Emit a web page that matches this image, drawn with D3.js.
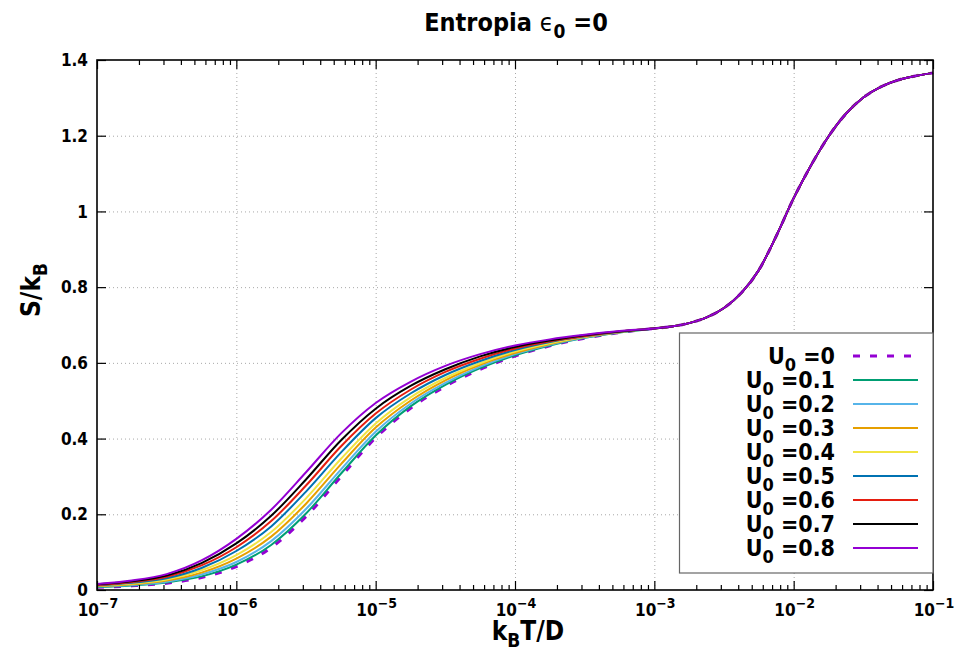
<!DOCTYPE html>
<html>
<head>
<meta charset="utf-8">
<script src="https://cdn.jsdelivr.net/npm/d3@7"></script>
<style>
  body { margin: 0; background: #fff; }
  text { font-family: "DejaVu Sans Condensed", "DejaVu Sans", sans-serif; font-stretch: condensed; font-weight: bold; fill: #000; }
</style>
</head>
<body>
<svg id="chart" width="954" height="652"></svg>
<script>
// Temperature grid (log10 of k_B T / D), low-temperature part where the curves differ
const log10T = [-7, -6.75, -6.5, -6.25, -6, -5.75, -5.5, -5.25, -5, -4.75, -4.5, -4.25, -4, -3.75, -3.5, -3.25];
// High-temperature part, shared by every U0
const log10Ttail = [-3, -2.875, -2.75, -2.625, -2.5, -2.375, -2.25, -2.125, -2, -1.875, -1.75, -1.625, -1.5, -1.375, -1.25, -1.125, -1];
const sTail = [0.691, 0.696, 0.705, 0.720, 0.745, 0.785, 0.845, 0.935, 1.035, 1.122, 1.198, 1.258, 1.301, 1.329, 1.347, 1.358, 1.366];

// S/k_B in the low-temperature region, one array per U0
const sU00 = [0.007, 0.011, 0.018, 0.033, 0.062, 0.112, 0.194, 0.299, 0.402, 0.480, 0.538, 0.583, 0.618, 0.645, 0.665, 0.680];
const sU01 = [0.008, 0.012, 0.020, 0.036, 0.067, 0.119, 0.202, 0.307, 0.408, 0.485, 0.542, 0.586, 0.620, 0.646, 0.666, 0.680];
const sU02 = [0.009, 0.013, 0.022, 0.041, 0.074, 0.129, 0.214, 0.318, 0.418, 0.492, 0.547, 0.590, 0.623, 0.648, 0.667, 0.681];
const sU03 = [0.010, 0.015, 0.025, 0.046, 0.083, 0.141, 0.228, 0.332, 0.429, 0.500, 0.554, 0.595, 0.626, 0.650, 0.668, 0.681];
const sU04 = [0.011, 0.017, 0.028, 0.052, 0.092, 0.153, 0.242, 0.346, 0.440, 0.509, 0.560, 0.599, 0.630, 0.652, 0.669, 0.682];
const sU05 = [0.012, 0.019, 0.031, 0.058, 0.103, 0.168, 0.260, 0.363, 0.454, 0.519, 0.568, 0.605, 0.634, 0.655, 0.670, 0.682];
const sU06 = [0.013, 0.021, 0.035, 0.065, 0.113, 0.182, 0.276, 0.379, 0.466, 0.529, 0.576, 0.611, 0.638, 0.657, 0.671, 0.683];
const sU07 = [0.015, 0.023, 0.038, 0.071, 0.123, 0.196, 0.292, 0.395, 0.479, 0.539, 0.583, 0.617, 0.642, 0.659, 0.673, 0.683];
const sU08 = [0.016, 0.025, 0.042, 0.078, 0.135, 0.212, 0.311, 0.413, 0.494, 0.550, 0.592, 0.623, 0.646, 0.662, 0.674, 0.684];

const u0Labels = ["0", "0.1", "0.2", "0.3", "0.4", "0.5", "0.6", "0.7", "0.8"];
const lineColors = ["#9400d3", "#009e73", "#56b4e9", "#e69f00", "#f0e442", "#0072b2", "#e51e10", "#000000", "#9400d3"];

const xExponents = [-7, -6, -5, -4, -3, -2, -1];
const yTickValues = [0, 0.2, 0.4, 0.6, 0.8, 1, 1.2, 1.4];
const yTickLabels = ["0", "0.2", "0.4", "0.6", "0.8", "1", "1.2", "1.4"];

const W = 954, H = 652;
const M = { left: 97, right: 21, top: 60, bottom: 62 };
const svg = d3.select("#chart");

const x = d3.scaleLog().domain([1e-7, 1e-1]).range([M.left, W - M.right]);
const y = d3.scaleLinear().domain([0, 1.4]).range([H - M.bottom, M.top]);
const pw = W - M.left - M.right, ph = H - M.top - M.bottom;

const decades = xExponents.map(e => Math.pow(10, e));
const minorTicks = [];
for (let e = -7; e < -1; e++) for (let k = 2; k <= 9; k++) minorTicks.push(k * Math.pow(10, e));

// dotted grid at the major ticks
const grid = svg.append("g");
grid.append("g").attr("transform", `translate(0,${H - M.bottom})`)
  .call(d3.axisBottom(x).tickValues(decades.slice(1, -1)).tickSize(-ph).tickFormat(""))
  .call(g => g.select(".domain").remove());
grid.append("g").attr("transform", `translate(${M.left},0)`)
  .call(d3.axisLeft(y).tickValues(yTickValues.slice(1, -1)).tickSize(-pw).tickFormat(""))
  .call(g => g.select(".domain").remove());
grid.selectAll("line").attr("stroke", "#a8a8a8").attr("stroke-width", 1).attr("stroke-dasharray", "1,3");

// entropy curves, U0 = 0 first so that U0 = 0.8 ends up on top
const series = [sU00, sU01, sU02, sU03, sU04, sU05, sU06, sU07, sU08];
const xs = log10T.concat(log10Ttail).map(e => Math.pow(10, e));
const line = d3.line().x(d => x(d[0])).y(d => y(d[1])).curve(d3.curveMonotoneX);
series.forEach((s, i) => {
  const full = s.concat(sTail);
  const pts = xs.map((t, j) => [t, full[j]]);
  svg.append("path").datum(pts)
    .attr("d", line)
    .attr("fill", "none")
    .attr("stroke", lineColors[i])
    .attr("stroke-width", i === 0 ? 3 : 2)
    .attr("stroke-dasharray", i === 0 ? "7,10" : null)
    .attr("stroke-linejoin", "round");
});

// inward ticks on all four sides
function styleAxis(g) { g.select(".domain").remove(); g.selectAll("line").attr("stroke", "#000").attr("stroke-width", 1.2); }
svg.append("g").attr("transform", `translate(0,${H - M.bottom})`)
  .call(d3.axisBottom(x).tickValues(decades).tickSize(-9).tickFormat("")).call(styleAxis);
svg.append("g").attr("transform", `translate(0,${H - M.bottom})`)
  .call(d3.axisBottom(x).tickValues(minorTicks).tickSize(-5).tickFormat("")).call(styleAxis);
svg.append("g").attr("transform", `translate(0,${M.top})`)
  .call(d3.axisTop(x).tickValues(decades).tickSize(-9).tickFormat("")).call(styleAxis);
svg.append("g").attr("transform", `translate(0,${M.top})`)
  .call(d3.axisTop(x).tickValues(minorTicks).tickSize(-5).tickFormat("")).call(styleAxis);
svg.append("g").attr("transform", `translate(${M.left},0)`)
  .call(d3.axisLeft(y).tickValues(yTickValues).tickSize(-9).tickFormat("")).call(styleAxis);
svg.append("g").attr("transform", `translate(${W - M.right},0)`)
  .call(d3.axisRight(y).tickValues(yTickValues).tickSize(-9).tickFormat("")).call(styleAxis);

svg.append("rect").attr("x", M.left).attr("y", M.top).attr("width", pw).attr("height", ph)
  .attr("fill", "none").attr("stroke", "#000").attr("stroke-width", 1.6);

// tick labels
yTickValues.forEach((v, i) => {
  svg.append("text").attr("x", M.left - 9).attr("y", y(v)).attr("dy", "0.36em")
    .attr("text-anchor", "end").attr("font-size", 17).text(yTickLabels[i]);
});
xExponents.forEach(e => {
  const t = svg.append("text").attr("x", x(Math.pow(10, e)) + 1).attr("y", H - M.bottom + 26)
    .attr("text-anchor", "middle").attr("font-size", 17);
  t.append("tspan").text("10");
  t.append("tspan").attr("dy", -8).attr("font-size", 14).text("\u2212" + Math.abs(e));
});

// title
const title = svg.append("text").attr("x", 516).attr("y", 31).attr("text-anchor", "middle").attr("font-size", 25);
title.append("tspan").text("Entropia ");
title.append("tspan").attr("font-weight", "normal").text("\u03f5");
title.append("tspan").attr("dy", 7).attr("font-size", 19).text("0");
title.append("tspan").attr("dy", -7).text(" =0");

// axis titles
const xl = svg.append("text").attr("x", 528).attr("y", 640).attr("text-anchor", "middle").attr("font-size", 26);
xl.append("tspan").text("k");
xl.append("tspan").attr("dy", 7).attr("font-size", 19).text("B");
xl.append("tspan").attr("dy", -7).text("T/D");

const yl = svg.append("text").attr("transform", "translate(40,290) rotate(-90)").attr("text-anchor", "middle").attr("font-size", 26);
yl.append("tspan").text("S/k");
yl.append("tspan").attr("dy", 7).attr("font-size", 19).text("B");

// legend
const lg = svg.append("g");
lg.append("rect").attr("x", 679.5).attr("y", 333).attr("width", 933 - 679.5).attr("height", 573 - 333)
  .attr("fill", "#fff").attr("stroke", "#666").attr("stroke-width", 1.2);
u0Labels.forEach((lab, i) => {
  const ry = 356 + i * 24;
  const t = lg.append("text").attr("x", 835).attr("y", ry + 7.5).attr("text-anchor", "end").attr("font-size", 23);
  t.append("tspan").text("U");
  t.append("tspan").attr("dy", 7).attr("font-size", 18).text("0");
  t.append("tspan").attr("dy", -7).text(" =" + lab);
  lg.append("line").attr("x1", 853).attr("x2", 918).attr("y1", ry).attr("y2", ry)
    .attr("stroke", lineColors[i]).attr("stroke-width", i === 0 ? 3 : 2)
    .attr("stroke-dasharray", i === 0 ? "7,10" : null);
});
</script>
</body>
</html>
